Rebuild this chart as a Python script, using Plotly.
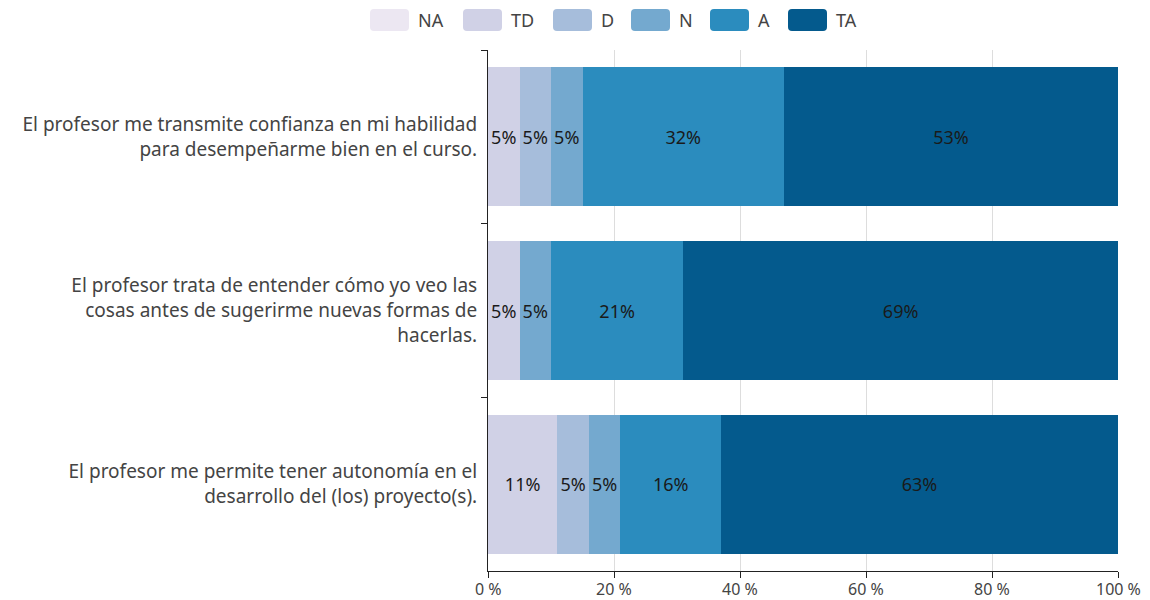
import plotly.graph_objects as go

questions = [
    "El profesor me transmite confianza en mi habilidad<br>para desempeñarme bien en el curso.",
    "El profesor trata de entender cómo yo veo las<br>cosas antes de sugerirme nuevas formas de<br>hacerlas.",
    "El profesor me permite tener autonomía en el<br>desarrollo del (los) proyecto(s).",
]
series_names = ["NA", "TD", "D", "N", "A", "TA"]
values = {
    "NA": [0, 0, 0],
    "TD": [5, 5, 11],
    "D": [5, 0, 5],
    "N": [5, 5, 5],
    "A": [32, 21, 16],
    "TA": [53, 69, 63],
}
colors = {
    "NA": "#ece7f2",
    "TD": "#d0d1e6",
    "D": "#a6bddb",
    "N": "#74a9cf",
    "A": "#2b8cbe",
    "TA": "#045a8d",
}
x_ticks = [0, 20, 40, 60, 80, 100]
x_tick_labels = ["0 %", "20 %", "40 %", "60 %", "80 %", "100 %"]

FONT = "Noto Sans, Open Sans, sans-serif"

# layout geometry (pixels)
W, H = 1150, 600
ML, MR, MT, MB = 488, 32, 50, 29
PW, PH = W - ML - MR, H - MT - MB
legend_rect_left = [370, 463, 553, 631, 710, 788]
LEG_W, LEG_H, LEG_TOP, LEG_R = 39, 22, 9, 4
XLABEL_TOP = 577


def px_x(px):
    return (px - ML) / PW


def px_y(py):
    return (H - MB - py) / PH


fig = go.Figure()
for name in series_names:
    vals = values[name]
    fig.add_trace(go.Bar(
        name=name,
        y=questions,
        x=vals,
        orientation="h",
        marker=dict(color=colors[name], line=dict(width=0)),
        text=[f"{v}%" if v else "" for v in vals],
        textposition="inside",
        insidetextanchor="middle",
        textfont=dict(color="#1a1a1a", size=18, family=FONT),
        width=0.8,
        showlegend=False,
    ))

# custom legend with rounded rectangles
shapes = []
annotations = []
for name, left in zip(series_names, legend_rect_left):
    x0, x1 = px_x(left), px_x(left + LEG_W)
    y0, y1 = px_y(LEG_TOP + LEG_H), px_y(LEG_TOP)
    rx = LEG_R / PW
    ry = LEG_R / PH
    path = (
        f"M {x0 + rx},{y0} L {x1 - rx},{y0} Q {x1},{y0} {x1},{y0 + ry} "
        f"L {x1},{y1 - ry} Q {x1},{y1} {x1 - rx},{y1} "
        f"L {x0 + rx},{y1} Q {x0},{y1} {x0},{y1 - ry} "
        f"L {x0},{y0 + ry} Q {x0},{y0} {x0 + rx},{y0} Z"
    )
    shapes.append(dict(
        type="path", path=path, xref="paper", yref="paper",
        fillcolor=colors[name], line=dict(width=0), layer="above",
    ))
    annotations.append(dict(
        x=px_x(left + LEG_W + 7), y=px_y(LEG_TOP + LEG_H / 2),
        xref="paper", yref="paper", xanchor="left", yanchor="middle",
        text=name, showarrow=False,
        font=dict(size=18, color="#444444", family=FONT),
    ))

# x tick labels placed tight under the tick marks
for tv, tl in zip(x_ticks, x_tick_labels):
    annotations.append(dict(
        x=tv, y=px_y(XLABEL_TOP), xref="x", yref="paper",
        xanchor="center", yanchor="top", text=tl, showarrow=False,
        borderpad=0,
        font=dict(size=16, color="#444444", family=FONT),
    ))

fig.update_layout(
    barmode="stack",
    width=W,
    height=H,
    margin=dict(l=ML, r=MR, t=MT, b=MB, autoexpand=False),
    plot_bgcolor="white",
    paper_bgcolor="white",
    font=dict(family=FONT, size=18, color="#444444"),
    uniformtext=dict(minsize=18, mode="show"),
    showlegend=False,
    shapes=shapes,
    annotations=annotations,
    xaxis=dict(
        range=[0, 100],
        tickvals=x_ticks,
        showticklabels=False,
        showgrid=True,
        gridcolor="#dddddd",
        gridwidth=1,
        showline=True,
        linecolor="#222222",
        linewidth=1,
        ticks="outside",
        ticklen=6,
        tickcolor="#222222",
        zeroline=False,
        automargin=False,
    ),
    yaxis=dict(
        categoryorder="array",
        categoryarray=questions,
        autorange="reversed",
        showline=True,
        linecolor="#222222",
        linewidth=1,
        ticks="outside",
        tickson="boundaries",
        ticklen=6,
        tickcolor="#222222",
        tickfont=dict(size=19, color="#444444"),
        ticklabelstandoff=6,
        showgrid=False,
        automargin=False,
    ),
)

fig.write_html(
    "out.html",
    config={"displayModeBar": False},
    post_script="document.body.style.margin='0';document.body.style.padding='0';",
)
